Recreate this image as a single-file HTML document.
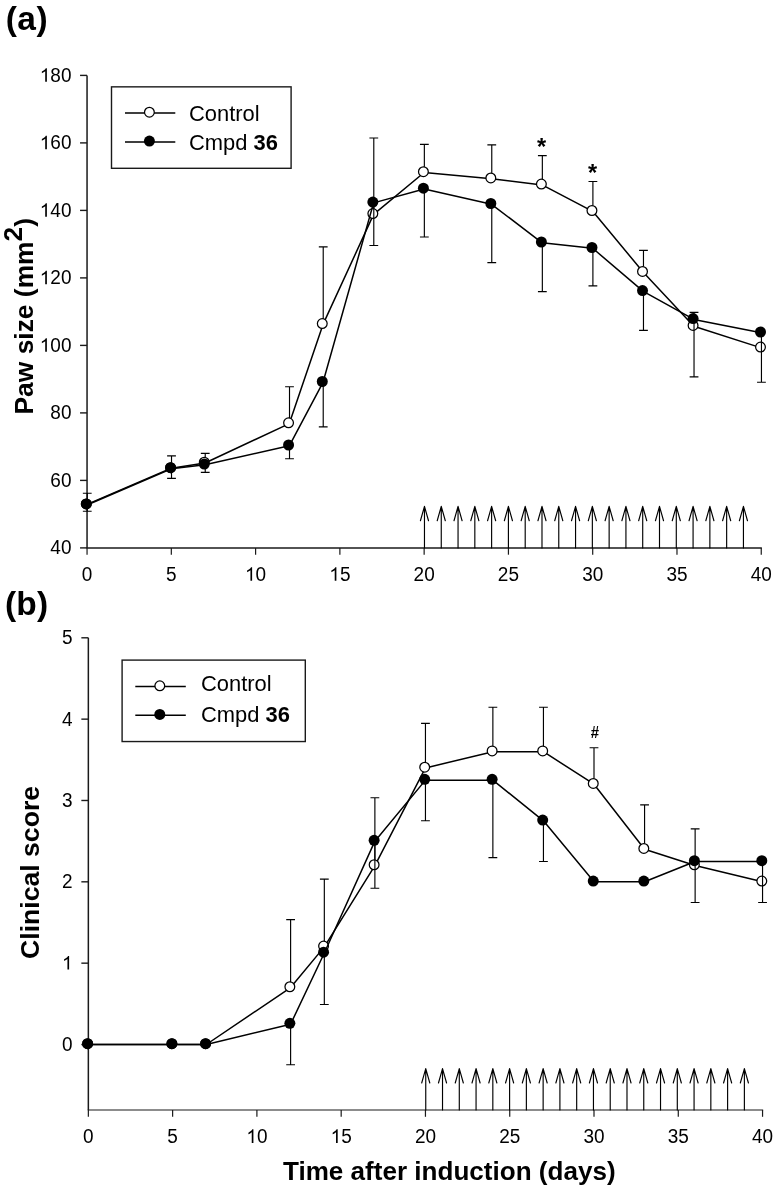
<!DOCTYPE html>
<html><head><meta charset="utf-8"><style>
html,body{margin:0;padding:0;background:#fff;}
body{width:774px;height:1188px;overflow:hidden;}
svg{display:block;will-change:transform;}
text{font-family:"Liberation Sans",sans-serif;fill:#000;}
</style></head><body>
<svg width="774" height="1188" viewBox="0 0 774 1188">
<rect width="774" height="1188" fill="#fff"/>
<path d="M87.05,75.4 V547.9" stroke="#1a1a1a" stroke-width="1.5" fill="none"/>
<path d="M86.45,547.9 H761.85" stroke="#1a1a1a" stroke-width="1.5" fill="none"/>
<path d="M80.05,547.9 H87.05" stroke="#1a1a1a" stroke-width="1.4"/>
<text transform="translate(50.37,554.3) scale(1,1.06)" font-size="19" font-family="Liberation Sans, sans-serif">4</text>
<text transform="translate(60.93,554.3) scale(1,1.06)" font-size="19" font-family="Liberation Sans, sans-serif">0</text>
<path d="M80.05,480.4 H87.05" stroke="#1a1a1a" stroke-width="1.4"/>
<text transform="translate(50.37,486.8) scale(1,1.06)" font-size="19" font-family="Liberation Sans, sans-serif">6</text>
<text transform="translate(60.93,486.8) scale(1,1.06)" font-size="19" font-family="Liberation Sans, sans-serif">0</text>
<path d="M80.05,412.9 H87.05" stroke="#1a1a1a" stroke-width="1.4"/>
<text transform="translate(50.37,419.3) scale(1,1.06)" font-size="19" font-family="Liberation Sans, sans-serif">8</text>
<text transform="translate(60.93,419.3) scale(1,1.06)" font-size="19" font-family="Liberation Sans, sans-serif">0</text>
<path d="M80.05,345.4 H87.05" stroke="#1a1a1a" stroke-width="1.4"/>
<path d="M46.88,351.8 L45.21,351.8 L45.21,341.16 Q44.6,341.73 43.62,342.31 Q42.64,342.89 41.86,343.17 L41.86,341.56 Q43.26,340.9 44.31,339.96 Q45.36,339.02 45.79,338.14 L46.88,338.14 Z" fill="#000"/>
<text transform="translate(50.37,351.8) scale(1,1.06)" font-size="19" font-family="Liberation Sans, sans-serif">0</text>
<text transform="translate(60.93,351.8) scale(1,1.06)" font-size="19" font-family="Liberation Sans, sans-serif">0</text>
<path d="M80.05,277.9 H87.05" stroke="#1a1a1a" stroke-width="1.4"/>
<path d="M46.88,284.3 L45.21,284.3 L45.21,273.66 Q44.6,274.23 43.62,274.81 Q42.64,275.39 41.86,275.67 L41.86,274.06 Q43.26,273.4 44.31,272.46 Q45.36,271.52 45.79,270.64 L46.88,270.64 Z" fill="#000"/>
<text transform="translate(50.37,284.3) scale(1,1.06)" font-size="19" font-family="Liberation Sans, sans-serif">2</text>
<text transform="translate(60.93,284.3) scale(1,1.06)" font-size="19" font-family="Liberation Sans, sans-serif">0</text>
<path d="M80.05,210.4 H87.05" stroke="#1a1a1a" stroke-width="1.4"/>
<path d="M46.88,216.8 L45.21,216.8 L45.21,206.16 Q44.6,206.73 43.62,207.31 Q42.64,207.89 41.86,208.17 L41.86,206.56 Q43.26,205.9 44.31,204.96 Q45.36,204.02 45.79,203.14 L46.88,203.14 Z" fill="#000"/>
<text transform="translate(50.37,216.8) scale(1,1.06)" font-size="19" font-family="Liberation Sans, sans-serif">4</text>
<text transform="translate(60.93,216.8) scale(1,1.06)" font-size="19" font-family="Liberation Sans, sans-serif">0</text>
<path d="M80.05,142.9 H87.05" stroke="#1a1a1a" stroke-width="1.4"/>
<path d="M46.88,149.3 L45.21,149.3 L45.21,138.66 Q44.6,139.23 43.62,139.81 Q42.64,140.39 41.86,140.67 L41.86,139.06 Q43.26,138.4 44.31,137.46 Q45.36,136.52 45.79,135.64 L46.88,135.64 Z" fill="#000"/>
<text transform="translate(50.37,149.3) scale(1,1.06)" font-size="19" font-family="Liberation Sans, sans-serif">6</text>
<text transform="translate(60.93,149.3) scale(1,1.06)" font-size="19" font-family="Liberation Sans, sans-serif">0</text>
<path d="M80.05,75.4 H87.05" stroke="#1a1a1a" stroke-width="1.4"/>
<path d="M46.88,81.8 L45.21,81.8 L45.21,71.16 Q44.6,71.73 43.62,72.31 Q42.64,72.89 41.86,73.17 L41.86,71.56 Q43.26,70.9 44.31,69.96 Q45.36,69.02 45.79,68.14 L46.88,68.14 Z" fill="#000"/>
<text transform="translate(50.37,81.8) scale(1,1.06)" font-size="19" font-family="Liberation Sans, sans-serif">8</text>
<text transform="translate(60.93,81.8) scale(1,1.06)" font-size="19" font-family="Liberation Sans, sans-serif">0</text>
<path d="M87.05,547.9 V554.7" stroke="#1a1a1a" stroke-width="1.2"/>
<text transform="translate(81.77,580.8) scale(1,1.06)" font-size="19" font-family="Liberation Sans, sans-serif">0</text>
<path d="M171.32,547.9 V554.7" stroke="#1a1a1a" stroke-width="1.2"/>
<text transform="translate(166.04,580.8) scale(1,1.06)" font-size="19" font-family="Liberation Sans, sans-serif">5</text>
<path d="M255.6,547.9 V554.7" stroke="#1a1a1a" stroke-width="1.2"/>
<path d="M252.11,580.8 L250.44,580.8 L250.44,570.16 Q249.84,570.73 248.86,571.31 Q247.87,571.89 247.09,572.17 L247.09,570.56 Q248.49,569.9 249.54,568.96 Q250.59,568.02 251.03,567.14 L252.11,567.14 Z" fill="#000"/>
<text transform="translate(255.6,580.8) scale(1,1.06)" font-size="19" font-family="Liberation Sans, sans-serif">0</text>
<path d="M339.88,547.9 V554.7" stroke="#1a1a1a" stroke-width="1.2"/>
<path d="M336.39,580.8 L334.72,580.8 L334.72,570.16 Q334.11,570.73 333.13,571.31 Q332.15,571.89 331.37,572.17 L331.37,570.56 Q332.77,569.9 333.82,568.96 Q334.87,568.02 335.3,567.14 L336.39,567.14 Z" fill="#000"/>
<text transform="translate(339.88,580.8) scale(1,1.06)" font-size="19" font-family="Liberation Sans, sans-serif">5</text>
<path d="M424.15,547.9 V554.7" stroke="#1a1a1a" stroke-width="1.2"/>
<text transform="translate(413.58,580.8) scale(1,1.06)" font-size="19" font-family="Liberation Sans, sans-serif">2</text>
<text transform="translate(424.15,580.8) scale(1,1.06)" font-size="19" font-family="Liberation Sans, sans-serif">0</text>
<path d="M508.43,547.9 V554.7" stroke="#1a1a1a" stroke-width="1.2"/>
<text transform="translate(497.86,580.8) scale(1,1.06)" font-size="19" font-family="Liberation Sans, sans-serif">2</text>
<text transform="translate(508.43,580.8) scale(1,1.06)" font-size="19" font-family="Liberation Sans, sans-serif">5</text>
<path d="M592.7,547.9 V554.7" stroke="#1a1a1a" stroke-width="1.2"/>
<text transform="translate(582.13,580.8) scale(1,1.06)" font-size="19" font-family="Liberation Sans, sans-serif">3</text>
<text transform="translate(592.7,580.8) scale(1,1.06)" font-size="19" font-family="Liberation Sans, sans-serif">0</text>
<path d="M676.98,547.9 V554.7" stroke="#1a1a1a" stroke-width="1.2"/>
<text transform="translate(666.41,580.8) scale(1,1.06)" font-size="19" font-family="Liberation Sans, sans-serif">3</text>
<text transform="translate(676.98,580.8) scale(1,1.06)" font-size="19" font-family="Liberation Sans, sans-serif">5</text>
<path d="M761.25,547.9 V554.7" stroke="#1a1a1a" stroke-width="1.2"/>
<text transform="translate(750.68,580.8) scale(1,1.06)" font-size="19" font-family="Liberation Sans, sans-serif">4</text>
<text transform="translate(761.25,580.8) scale(1,1.06)" font-size="19" font-family="Liberation Sans, sans-serif">0</text>
<path d="M424.47,547.9 V506.35 M420.42,520.75 L424.47,506.35 L428.52,520.75" stroke="#000" stroke-width="1.15" stroke-linejoin="round" stroke-linecap="round" fill="none"/>
<path d="M441.26,547.9 V506.35 M437.21,520.75 L441.26,506.35 L445.31,520.75" stroke="#000" stroke-width="1.15" stroke-linejoin="round" stroke-linecap="round" fill="none"/>
<path d="M458.05,547.9 V506.35 M454,520.75 L458.05,506.35 L462.1,520.75" stroke="#000" stroke-width="1.15" stroke-linejoin="round" stroke-linecap="round" fill="none"/>
<path d="M474.83,547.9 V506.35 M470.78,520.75 L474.83,506.35 L478.88,520.75" stroke="#000" stroke-width="1.15" stroke-linejoin="round" stroke-linecap="round" fill="none"/>
<path d="M491.62,547.9 V506.35 M487.57,520.75 L491.62,506.35 L495.67,520.75" stroke="#000" stroke-width="1.15" stroke-linejoin="round" stroke-linecap="round" fill="none"/>
<path d="M508.41,547.9 V506.35 M504.36,520.75 L508.41,506.35 L512.46,520.75" stroke="#000" stroke-width="1.15" stroke-linejoin="round" stroke-linecap="round" fill="none"/>
<path d="M525.2,547.9 V506.35 M521.15,520.75 L525.2,506.35 L529.25,520.75" stroke="#000" stroke-width="1.15" stroke-linejoin="round" stroke-linecap="round" fill="none"/>
<path d="M541.99,547.9 V506.35 M537.94,520.75 L541.99,506.35 L546.04,520.75" stroke="#000" stroke-width="1.15" stroke-linejoin="round" stroke-linecap="round" fill="none"/>
<path d="M558.77,547.9 V506.35 M554.72,520.75 L558.77,506.35 L562.82,520.75" stroke="#000" stroke-width="1.15" stroke-linejoin="round" stroke-linecap="round" fill="none"/>
<path d="M575.56,547.9 V506.35 M571.51,520.75 L575.56,506.35 L579.61,520.75" stroke="#000" stroke-width="1.15" stroke-linejoin="round" stroke-linecap="round" fill="none"/>
<path d="M592.35,547.9 V506.35 M588.3,520.75 L592.35,506.35 L596.4,520.75" stroke="#000" stroke-width="1.15" stroke-linejoin="round" stroke-linecap="round" fill="none"/>
<path d="M609.14,547.9 V506.35 M605.09,520.75 L609.14,506.35 L613.19,520.75" stroke="#000" stroke-width="1.15" stroke-linejoin="round" stroke-linecap="round" fill="none"/>
<path d="M625.93,547.9 V506.35 M621.88,520.75 L625.93,506.35 L629.98,520.75" stroke="#000" stroke-width="1.15" stroke-linejoin="round" stroke-linecap="round" fill="none"/>
<path d="M642.71,547.9 V506.35 M638.66,520.75 L642.71,506.35 L646.76,520.75" stroke="#000" stroke-width="1.15" stroke-linejoin="round" stroke-linecap="round" fill="none"/>
<path d="M659.5,547.9 V506.35 M655.45,520.75 L659.5,506.35 L663.55,520.75" stroke="#000" stroke-width="1.15" stroke-linejoin="round" stroke-linecap="round" fill="none"/>
<path d="M676.29,547.9 V506.35 M672.24,520.75 L676.29,506.35 L680.34,520.75" stroke="#000" stroke-width="1.15" stroke-linejoin="round" stroke-linecap="round" fill="none"/>
<path d="M693.08,547.9 V506.35 M689.03,520.75 L693.08,506.35 L697.13,520.75" stroke="#000" stroke-width="1.15" stroke-linejoin="round" stroke-linecap="round" fill="none"/>
<path d="M709.87,547.9 V506.35 M705.82,520.75 L709.87,506.35 L713.92,520.75" stroke="#000" stroke-width="1.15" stroke-linejoin="round" stroke-linecap="round" fill="none"/>
<path d="M726.65,547.9 V506.35 M722.6,520.75 L726.65,506.35 L730.7,520.75" stroke="#000" stroke-width="1.15" stroke-linejoin="round" stroke-linecap="round" fill="none"/>
<path d="M743.44,547.9 V506.35 M739.39,520.75 L743.44,506.35 L747.49,520.75" stroke="#000" stroke-width="1.15" stroke-linejoin="round" stroke-linecap="round" fill="none"/>
<path d="M87.05,504.35 L171.32,468.15 L205.03,463 L289.31,423.6 L323.02,324.4 L373.59,214.4 L424.15,172.5 L491.57,178.7 L542.13,184.9 L592.7,211.3 L643.26,272.2 L693.83,326.2 L761.25,347.9" fill="none" stroke="#000" stroke-width="1.5" stroke-linejoin="round"/>
<path d="M87.25,504.7 V493.2 M82.85,493.2 H91.65" stroke="#000" stroke-width="1.15" fill="none"/>
<path d="M171.52,468.5 V455.8 M167.12,455.8 H175.92" stroke="#000" stroke-width="1.15" fill="none"/>
<path d="M205.23,463 V453.4 M200.83,453.4 H209.63" stroke="#000" stroke-width="1.15" fill="none"/>
<path d="M289.51,423.6 V386.7 M285.11,386.7 H293.91" stroke="#000" stroke-width="1.15" fill="none"/>
<path d="M323.22,324.4 V246.9 M318.82,246.9 H327.62" stroke="#000" stroke-width="1.15" fill="none"/>
<path d="M373.79,214.4 V138 M369.39,138 H378.19" stroke="#000" stroke-width="1.15" fill="none"/>
<path d="M424.35,172.5 V144.4 M419.95,144.4 H428.75" stroke="#000" stroke-width="1.15" fill="none"/>
<path d="M491.77,178.7 V144.8 M487.37,144.8 H496.17" stroke="#000" stroke-width="1.15" fill="none"/>
<path d="M542.34,184.9 V155.6 M537.94,155.6 H546.74" stroke="#000" stroke-width="1.15" fill="none"/>
<path d="M592.9,211.3 V181.5 M588.5,181.5 H597.3" stroke="#000" stroke-width="1.15" fill="none"/>
<path d="M643.47,272.2 V250.3 M639.07,250.3 H647.87" stroke="#000" stroke-width="1.15" fill="none"/>
<path d="M694.03,326.2 V312.4 M689.63,312.4 H698.43" stroke="#000" stroke-width="1.15" fill="none"/>
<circle cx="86.3" cy="503.9" r="4.88" fill="#fff" stroke="#000" stroke-width="1.25"/>
<circle cx="170.57" cy="467.7" r="4.88" fill="#fff" stroke="#000" stroke-width="1.25"/>
<circle cx="204.28" cy="462.2" r="4.88" fill="#fff" stroke="#000" stroke-width="1.25"/>
<circle cx="288.56" cy="422.8" r="4.88" fill="#fff" stroke="#000" stroke-width="1.25"/>
<circle cx="322.27" cy="323.6" r="4.88" fill="#fff" stroke="#000" stroke-width="1.25"/>
<circle cx="372.84" cy="213.6" r="4.88" fill="#fff" stroke="#000" stroke-width="1.25"/>
<circle cx="423.4" cy="171.7" r="4.88" fill="#fff" stroke="#000" stroke-width="1.25"/>
<circle cx="490.82" cy="177.9" r="4.88" fill="#fff" stroke="#000" stroke-width="1.25"/>
<circle cx="541.38" cy="184.1" r="4.88" fill="#fff" stroke="#000" stroke-width="1.25"/>
<circle cx="591.95" cy="210.5" r="4.88" fill="#fff" stroke="#000" stroke-width="1.25"/>
<circle cx="642.51" cy="271.4" r="4.88" fill="#fff" stroke="#000" stroke-width="1.25"/>
<circle cx="693.08" cy="325.4" r="4.88" fill="#fff" stroke="#000" stroke-width="1.25"/>
<circle cx="760.5" cy="347.1" r="4.88" fill="#fff" stroke="#000" stroke-width="1.25"/>
<path d="M87.05,505.05 L171.32,468.85 L205.03,464.8 L289.31,445.8 L323.02,382.3 L373.59,202.9 L424.15,189 L491.57,204.3 L542.13,242.8 L592.7,248.3 L643.26,291.4 L693.83,319.4 L761.25,332.8" fill="none" stroke="#000" stroke-width="1.5" stroke-linejoin="round"/>
<path d="M87.25,504.7 V511.2 M82.85,511.2 H91.65" stroke="#000" stroke-width="1.15" fill="none"/>
<path d="M171.52,468.5 V478.4 M167.12,478.4 H175.92" stroke="#000" stroke-width="1.15" fill="none"/>
<path d="M205.23,464.8 V472.4 M200.83,472.4 H209.63" stroke="#000" stroke-width="1.15" fill="none"/>
<path d="M289.51,445.8 V458.7 M285.11,458.7 H293.91" stroke="#000" stroke-width="1.15" fill="none"/>
<path d="M323.22,382.3 V426.8 M318.82,426.8 H327.62" stroke="#000" stroke-width="1.15" fill="none"/>
<path d="M373.79,202.9 V245.5 M369.39,245.5 H378.19" stroke="#000" stroke-width="1.15" fill="none"/>
<path d="M424.35,189 V237 M419.95,237 H428.75" stroke="#000" stroke-width="1.15" fill="none"/>
<path d="M491.77,204.3 V262.6 M487.37,262.6 H496.17" stroke="#000" stroke-width="1.15" fill="none"/>
<path d="M542.34,242.8 V291.6 M537.94,291.6 H546.74" stroke="#000" stroke-width="1.15" fill="none"/>
<path d="M592.9,248.3 V285.8 M588.5,285.8 H597.3" stroke="#000" stroke-width="1.15" fill="none"/>
<path d="M643.47,291.4 V330.3 M639.07,330.3 H647.87" stroke="#000" stroke-width="1.15" fill="none"/>
<path d="M694.03,319.4 V376.8 M689.63,376.8 H698.43" stroke="#000" stroke-width="1.15" fill="none"/>
<path d="M761.45,332.8 V382.2 M757.05,382.2 H765.85" stroke="#000" stroke-width="1.15" fill="none"/>
<circle cx="86.3" cy="503.9" r="5.5" fill="#000"/>
<circle cx="170.57" cy="467.7" r="5.5" fill="#000"/>
<circle cx="204.28" cy="464" r="5.5" fill="#000"/>
<circle cx="288.56" cy="445" r="5.5" fill="#000"/>
<circle cx="322.27" cy="381.5" r="5.5" fill="#000"/>
<circle cx="372.84" cy="202.1" r="5.5" fill="#000"/>
<circle cx="423.4" cy="188.2" r="5.5" fill="#000"/>
<circle cx="490.82" cy="203.5" r="5.5" fill="#000"/>
<circle cx="541.38" cy="242" r="5.5" fill="#000"/>
<circle cx="591.95" cy="247.5" r="5.5" fill="#000"/>
<circle cx="642.51" cy="290.6" r="5.5" fill="#000"/>
<circle cx="693.08" cy="318.6" r="5.5" fill="#000"/>
<circle cx="760.5" cy="332" r="5.5" fill="#000"/>
<rect x="111.5" y="86.85" width="179.6" height="81.45" fill="none" stroke="#1a1a1a" stroke-width="1.4"/>
<path d="M125,113 H175.3 M125,141.9 H175.3" stroke="#000" stroke-width="1.5"/>
<circle cx="149.4" cy="112.2" r="4.88" fill="#fff" stroke="#000" stroke-width="1.25"/>
<circle cx="149.4" cy="141.1" r="5.5" fill="#000"/>
<text x="189" y="120.6" font-size="21.9" font-family="Liberation Sans, sans-serif">Control</text>
<text x="189" y="150.4" font-size="21.9" font-family="Liberation Sans, sans-serif">Cmpd <tspan font-weight="bold">36</tspan></text>
<text x="541.63" y="155.1" text-anchor="middle" font-size="23.5" font-weight="bold" font-family="Liberation Sans, sans-serif">*</text>
<text x="592.5" y="181.1" text-anchor="middle" font-size="23.5" font-weight="bold" font-family="Liberation Sans, sans-serif">*</text>
<path d="M88.35,637.8 V1110" stroke="#1a1a1a" stroke-width="1.5" fill="none"/>
<path d="M87.75,1110 H763.15" stroke="#1a1a1a" stroke-width="1.15" fill="none"/>
<path d="M81.35,1044.5 H88.35" stroke="#1a1a1a" stroke-width="1.4"/>
<text transform="translate(62.03,1050.9) scale(1,1.06)" font-size="19" font-family="Liberation Sans, sans-serif">0</text>
<path d="M81.35,963.16 H88.35" stroke="#1a1a1a" stroke-width="1.4"/>
<path d="M69.11,969.56 L67.44,969.56 L67.44,958.92 Q66.84,959.49 65.86,960.07 Q64.87,960.65 64.09,960.93 L64.09,959.32 Q65.49,958.66 66.54,957.72 Q67.59,956.78 68.03,955.9 L69.11,955.9 Z" fill="#000"/>
<path d="M81.35,881.82 H88.35" stroke="#1a1a1a" stroke-width="1.4"/>
<text transform="translate(62.03,888.22) scale(1,1.06)" font-size="19" font-family="Liberation Sans, sans-serif">2</text>
<path d="M81.35,800.48 H88.35" stroke="#1a1a1a" stroke-width="1.4"/>
<text transform="translate(62.03,806.88) scale(1,1.06)" font-size="19" font-family="Liberation Sans, sans-serif">3</text>
<path d="M81.35,719.14 H88.35" stroke="#1a1a1a" stroke-width="1.4"/>
<text transform="translate(62.03,725.54) scale(1,1.06)" font-size="19" font-family="Liberation Sans, sans-serif">4</text>
<path d="M81.35,637.8 H88.35" stroke="#1a1a1a" stroke-width="1.4"/>
<text transform="translate(62.03,644.2) scale(1,1.06)" font-size="19" font-family="Liberation Sans, sans-serif">5</text>
<path d="M88.35,1110 V1116.8" stroke="#1a1a1a" stroke-width="1.2"/>
<text transform="translate(83.07,1142.9) scale(1,1.06)" font-size="19" font-family="Liberation Sans, sans-serif">0</text>
<path d="M172.62,1110 V1116.8" stroke="#1a1a1a" stroke-width="1.2"/>
<text transform="translate(167.34,1142.9) scale(1,1.06)" font-size="19" font-family="Liberation Sans, sans-serif">5</text>
<path d="M256.9,1110 V1116.8" stroke="#1a1a1a" stroke-width="1.2"/>
<path d="M253.41,1142.9 L251.74,1142.9 L251.74,1132.26 Q251.14,1132.83 250.16,1133.41 Q249.17,1133.99 248.39,1134.27 L248.39,1132.66 Q249.79,1132 250.84,1131.06 Q251.89,1130.12 252.33,1129.24 L253.41,1129.24 Z" fill="#000"/>
<text transform="translate(256.9,1142.9) scale(1,1.06)" font-size="19" font-family="Liberation Sans, sans-serif">0</text>
<path d="M341.18,1110 V1116.8" stroke="#1a1a1a" stroke-width="1.2"/>
<path d="M337.69,1142.9 L336.02,1142.9 L336.02,1132.26 Q335.41,1132.83 334.43,1133.41 Q333.45,1133.99 332.67,1134.27 L332.67,1132.66 Q334.07,1132 335.12,1131.06 Q336.17,1130.12 336.6,1129.24 L337.69,1129.24 Z" fill="#000"/>
<text transform="translate(341.18,1142.9) scale(1,1.06)" font-size="19" font-family="Liberation Sans, sans-serif">5</text>
<path d="M425.45,1110 V1116.8" stroke="#1a1a1a" stroke-width="1.2"/>
<text transform="translate(414.88,1142.9) scale(1,1.06)" font-size="19" font-family="Liberation Sans, sans-serif">2</text>
<text transform="translate(425.45,1142.9) scale(1,1.06)" font-size="19" font-family="Liberation Sans, sans-serif">0</text>
<path d="M509.73,1110 V1116.8" stroke="#1a1a1a" stroke-width="1.2"/>
<text transform="translate(499.16,1142.9) scale(1,1.06)" font-size="19" font-family="Liberation Sans, sans-serif">2</text>
<text transform="translate(509.73,1142.9) scale(1,1.06)" font-size="19" font-family="Liberation Sans, sans-serif">5</text>
<path d="M594,1110 V1116.8" stroke="#1a1a1a" stroke-width="1.2"/>
<text transform="translate(583.43,1142.9) scale(1,1.06)" font-size="19" font-family="Liberation Sans, sans-serif">3</text>
<text transform="translate(594,1142.9) scale(1,1.06)" font-size="19" font-family="Liberation Sans, sans-serif">0</text>
<path d="M678.28,1110 V1116.8" stroke="#1a1a1a" stroke-width="1.2"/>
<text transform="translate(667.71,1142.9) scale(1,1.06)" font-size="19" font-family="Liberation Sans, sans-serif">3</text>
<text transform="translate(678.28,1142.9) scale(1,1.06)" font-size="19" font-family="Liberation Sans, sans-serif">5</text>
<path d="M762.55,1110 V1116.8" stroke="#1a1a1a" stroke-width="1.2"/>
<text transform="translate(751.98,1142.9) scale(1,1.06)" font-size="19" font-family="Liberation Sans, sans-serif">4</text>
<text transform="translate(762.55,1142.9) scale(1,1.06)" font-size="19" font-family="Liberation Sans, sans-serif">0</text>
<path d="M425.75,1110 V1068.6 M421.7,1083 L425.75,1068.6 L429.8,1083" stroke="#000" stroke-width="1.15" stroke-linejoin="round" stroke-linecap="round" fill="none"/>
<path d="M442.52,1110 V1068.6 M438.47,1083 L442.52,1068.6 L446.57,1083" stroke="#000" stroke-width="1.15" stroke-linejoin="round" stroke-linecap="round" fill="none"/>
<path d="M459.29,1110 V1068.6 M455.24,1083 L459.29,1068.6 L463.34,1083" stroke="#000" stroke-width="1.15" stroke-linejoin="round" stroke-linecap="round" fill="none"/>
<path d="M476.06,1110 V1068.6 M472.01,1083 L476.06,1068.6 L480.11,1083" stroke="#000" stroke-width="1.15" stroke-linejoin="round" stroke-linecap="round" fill="none"/>
<path d="M492.83,1110 V1068.6 M488.78,1083 L492.83,1068.6 L496.88,1083" stroke="#000" stroke-width="1.15" stroke-linejoin="round" stroke-linecap="round" fill="none"/>
<path d="M509.6,1110 V1068.6 M505.55,1083 L509.6,1068.6 L513.65,1083" stroke="#000" stroke-width="1.15" stroke-linejoin="round" stroke-linecap="round" fill="none"/>
<path d="M526.37,1110 V1068.6 M522.32,1083 L526.37,1068.6 L530.42,1083" stroke="#000" stroke-width="1.15" stroke-linejoin="round" stroke-linecap="round" fill="none"/>
<path d="M543.14,1110 V1068.6 M539.09,1083 L543.14,1068.6 L547.19,1083" stroke="#000" stroke-width="1.15" stroke-linejoin="round" stroke-linecap="round" fill="none"/>
<path d="M559.91,1110 V1068.6 M555.86,1083 L559.91,1068.6 L563.96,1083" stroke="#000" stroke-width="1.15" stroke-linejoin="round" stroke-linecap="round" fill="none"/>
<path d="M576.68,1110 V1068.6 M572.63,1083 L576.68,1068.6 L580.73,1083" stroke="#000" stroke-width="1.15" stroke-linejoin="round" stroke-linecap="round" fill="none"/>
<path d="M593.45,1110 V1068.6 M589.4,1083 L593.45,1068.6 L597.5,1083" stroke="#000" stroke-width="1.15" stroke-linejoin="round" stroke-linecap="round" fill="none"/>
<path d="M610.22,1110 V1068.6 M606.17,1083 L610.22,1068.6 L614.27,1083" stroke="#000" stroke-width="1.15" stroke-linejoin="round" stroke-linecap="round" fill="none"/>
<path d="M626.99,1110 V1068.6 M622.94,1083 L626.99,1068.6 L631.04,1083" stroke="#000" stroke-width="1.15" stroke-linejoin="round" stroke-linecap="round" fill="none"/>
<path d="M643.76,1110 V1068.6 M639.71,1083 L643.76,1068.6 L647.81,1083" stroke="#000" stroke-width="1.15" stroke-linejoin="round" stroke-linecap="round" fill="none"/>
<path d="M660.53,1110 V1068.6 M656.48,1083 L660.53,1068.6 L664.58,1083" stroke="#000" stroke-width="1.15" stroke-linejoin="round" stroke-linecap="round" fill="none"/>
<path d="M677.3,1110 V1068.6 M673.25,1083 L677.3,1068.6 L681.35,1083" stroke="#000" stroke-width="1.15" stroke-linejoin="round" stroke-linecap="round" fill="none"/>
<path d="M694.07,1110 V1068.6 M690.02,1083 L694.07,1068.6 L698.12,1083" stroke="#000" stroke-width="1.15" stroke-linejoin="round" stroke-linecap="round" fill="none"/>
<path d="M710.84,1110 V1068.6 M706.79,1083 L710.84,1068.6 L714.89,1083" stroke="#000" stroke-width="1.15" stroke-linejoin="round" stroke-linecap="round" fill="none"/>
<path d="M727.61,1110 V1068.6 M723.56,1083 L727.61,1068.6 L731.66,1083" stroke="#000" stroke-width="1.15" stroke-linejoin="round" stroke-linecap="round" fill="none"/>
<path d="M744.38,1110 V1068.6 M740.33,1083 L744.38,1068.6 L748.43,1083" stroke="#000" stroke-width="1.15" stroke-linejoin="round" stroke-linecap="round" fill="none"/>
<path d="M88.35,1044.5 L172.62,1044.5 L206.33,1044.5 L290.61,987.56 L324.32,946.89 L374.88,865.55 L425.45,767.94 L492.87,751.68 L543.44,751.68 L594,784.21 L644.57,849.28 L695.13,865.55 L762.55,881.82" fill="none" stroke="#000" stroke-width="1.5" stroke-linejoin="round"/>
<path d="M290.61,987.56 V919.6 M286.21,919.6 H295.01" stroke="#000" stroke-width="1.15" fill="none"/>
<path d="M324.32,946.89 V879.1 M319.92,879.1 H328.72" stroke="#000" stroke-width="1.15" fill="none"/>
<path d="M374.88,865.55 V797.7 M370.49,797.7 H379.28" stroke="#000" stroke-width="1.15" fill="none"/>
<path d="M425.45,767.94 V723.3 M421.05,723.3 H429.85" stroke="#000" stroke-width="1.15" fill="none"/>
<path d="M492.87,751.68 V707.2 M488.47,707.2 H497.27" stroke="#000" stroke-width="1.15" fill="none"/>
<path d="M543.44,751.68 V707.2 M539.04,707.2 H547.84" stroke="#000" stroke-width="1.15" fill="none"/>
<path d="M594,784.21 V747.7 M589.6,747.7 H598.4" stroke="#000" stroke-width="1.15" fill="none"/>
<path d="M644.57,849.28 V804.9 M640.17,804.9 H648.97" stroke="#000" stroke-width="1.15" fill="none"/>
<path d="M695.13,865.55 V828.9 M690.73,828.9 H699.53" stroke="#000" stroke-width="1.15" fill="none"/>
<circle cx="87.6" cy="1043.7" r="4.88" fill="#fff" stroke="#000" stroke-width="1.25"/>
<circle cx="171.88" cy="1043.7" r="4.88" fill="#fff" stroke="#000" stroke-width="1.25"/>
<circle cx="205.58" cy="1043.7" r="4.88" fill="#fff" stroke="#000" stroke-width="1.25"/>
<circle cx="289.86" cy="986.76" r="4.88" fill="#fff" stroke="#000" stroke-width="1.25"/>
<circle cx="323.57" cy="946.09" r="4.88" fill="#fff" stroke="#000" stroke-width="1.25"/>
<circle cx="374.13" cy="864.75" r="4.88" fill="#fff" stroke="#000" stroke-width="1.25"/>
<circle cx="424.7" cy="767.14" r="4.88" fill="#fff" stroke="#000" stroke-width="1.25"/>
<circle cx="492.12" cy="750.88" r="4.88" fill="#fff" stroke="#000" stroke-width="1.25"/>
<circle cx="542.69" cy="750.88" r="4.88" fill="#fff" stroke="#000" stroke-width="1.25"/>
<circle cx="593.25" cy="783.41" r="4.88" fill="#fff" stroke="#000" stroke-width="1.25"/>
<circle cx="643.82" cy="848.48" r="4.88" fill="#fff" stroke="#000" stroke-width="1.25"/>
<circle cx="694.38" cy="864.75" r="4.88" fill="#fff" stroke="#000" stroke-width="1.25"/>
<circle cx="761.8" cy="881.02" r="4.88" fill="#fff" stroke="#000" stroke-width="1.25"/>
<path d="M88.35,1044.5 L172.62,1044.5 L206.33,1044.5 L290.61,1024.16 L324.32,952.99 L374.88,841.15 L425.45,780.14 L492.87,780.14 L543.44,820.82 L594,881.82 L644.57,881.82 L695.13,861.49 L762.55,861.49" fill="none" stroke="#000" stroke-width="1.5" stroke-linejoin="round"/>
<path d="M290.61,1024.16 V1064.7 M286.21,1064.7 H295.01" stroke="#000" stroke-width="1.15" fill="none"/>
<path d="M324.32,952.99 V1004.5 M319.92,1004.5 H328.72" stroke="#000" stroke-width="1.15" fill="none"/>
<path d="M374.88,841.15 V888.2 M370.49,888.2 H379.28" stroke="#000" stroke-width="1.15" fill="none"/>
<path d="M425.45,780.14 V820.7 M421.05,820.7 H429.85" stroke="#000" stroke-width="1.15" fill="none"/>
<path d="M492.87,780.14 V857.6 M488.47,857.6 H497.27" stroke="#000" stroke-width="1.15" fill="none"/>
<path d="M543.44,820.82 V861.5 M539.04,861.5 H547.84" stroke="#000" stroke-width="1.15" fill="none"/>
<path d="M695.13,861.49 V902.5 M690.73,902.5 H699.53" stroke="#000" stroke-width="1.15" fill="none"/>
<path d="M762.55,861.49 V902.5 M758.15,902.5 H766.95" stroke="#000" stroke-width="1.15" fill="none"/>
<circle cx="87.6" cy="1043.7" r="5.5" fill="#000"/>
<circle cx="171.88" cy="1043.7" r="5.5" fill="#000"/>
<circle cx="205.58" cy="1043.7" r="5.5" fill="#000"/>
<circle cx="289.86" cy="1023.37" r="5.5" fill="#000"/>
<circle cx="323.57" cy="952.19" r="5.5" fill="#000"/>
<circle cx="374.13" cy="840.35" r="5.5" fill="#000"/>
<circle cx="424.7" cy="779.35" r="5.5" fill="#000"/>
<circle cx="492.12" cy="779.35" r="5.5" fill="#000"/>
<circle cx="542.69" cy="820.02" r="5.5" fill="#000"/>
<circle cx="593.25" cy="881.02" r="5.5" fill="#000"/>
<circle cx="643.82" cy="881.02" r="5.5" fill="#000"/>
<circle cx="694.38" cy="860.69" r="5.5" fill="#000"/>
<circle cx="761.8" cy="860.69" r="5.5" fill="#000"/>
<rect x="122.1" y="660.1" width="183.2" height="81.45" fill="none" stroke="#1a1a1a" stroke-width="1.4"/>
<path d="M135.3,686.6 H185.8 M135.3,715.2 H185.8" stroke="#000" stroke-width="1.5"/>
<circle cx="159.8" cy="685.8" r="4.88" fill="#fff" stroke="#000" stroke-width="1.25"/>
<circle cx="159.8" cy="714.4" r="5.5" fill="#000"/>
<text x="201" y="691.2" font-size="21.9" font-family="Liberation Sans, sans-serif">Control</text>
<text x="201" y="722.1" font-size="21.9" font-family="Liberation Sans, sans-serif">Cmpd <tspan font-weight="bold">36</tspan></text>
<text transform="translate(594.9,737.6) scale(0.95,1)" text-anchor="middle" font-size="15.7" font-weight="bold" font-family="Liberation Sans, sans-serif">#</text>
<text x="5.8" y="30.4" font-size="33.5" letter-spacing="0.4" font-weight="bold" font-family="Liberation Sans, sans-serif">(a)</text>
<text x="4.9" y="614.6" font-size="33.5" letter-spacing="0.2" font-weight="bold" font-family="Liberation Sans, sans-serif">(b)</text>
<text transform="translate(33,414.5) rotate(-90)" font-size="26.4" font-weight="bold" font-family="Liberation Sans, sans-serif">Paw size (mm<tspan dy="-11.3">2</tspan><tspan dy="11.3">)</tspan></text>
<text transform="translate(39.4,958.9) rotate(-90)" font-size="26.6" font-weight="bold" font-family="Liberation Sans, sans-serif">Clinical score</text>
<text x="283" y="1179.8" font-size="26.07" font-weight="bold" font-family="Liberation Sans, sans-serif">Time after induction (days)</text>
</svg>
</body></html>
